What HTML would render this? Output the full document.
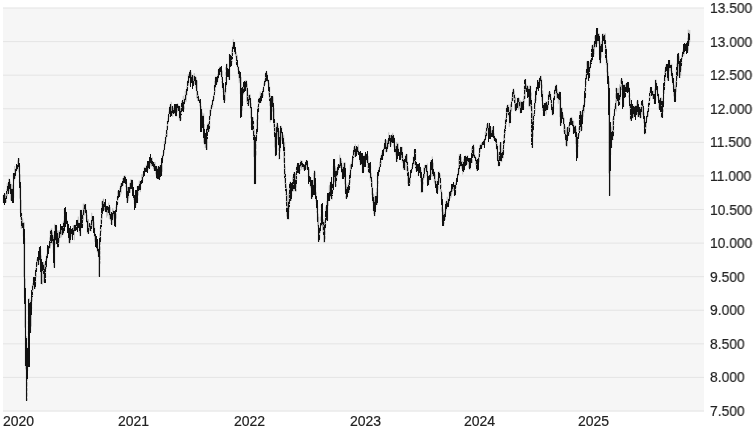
<!DOCTYPE html>
<html><head><meta charset="utf-8"><style>
html,body{margin:0;padding:0;background:#fff;}body{width:753px;height:430px;overflow:hidden;position:relative;font-family:"Liberation Sans",sans-serif;font-size:14px;color:#222;-webkit-text-stroke:0.2px #222;}
svg{position:absolute;left:0;top:0;}
.yl,.xl{will-change:transform;}.yl{transform:scaleX(0.986);transform-origin:0 50%;}.yl{position:absolute;left:710px;line-height:16px;height:16px;white-space:nowrap;}
.xl{position:absolute;top:413px;line-height:16px;height:16px;white-space:nowrap;}
</style></head><body>
<svg width="753" height="430" viewBox="0 0 753 430">
<rect x="3" y="8" width="701" height="403.5" fill="#f6f6f6"/>
<rect x="3" y="7.50" width="701" height="1" fill="#e4e4e4"/>
<rect x="3" y="41.08" width="701" height="1" fill="#e4e4e4"/>
<rect x="3" y="74.67" width="701" height="1" fill="#e4e4e4"/>
<rect x="3" y="108.25" width="701" height="1" fill="#e4e4e4"/>
<rect x="3" y="141.83" width="701" height="1" fill="#e4e4e4"/>
<rect x="3" y="175.42" width="701" height="1" fill="#e4e4e4"/>
<rect x="3" y="209.00" width="701" height="1" fill="#e4e4e4"/>
<rect x="3" y="242.58" width="701" height="1" fill="#e4e4e4"/>
<rect x="3" y="276.17" width="701" height="1" fill="#e4e4e4"/>
<rect x="3" y="309.75" width="701" height="1" fill="#e4e4e4"/>
<rect x="3" y="343.33" width="701" height="1" fill="#e4e4e4"/>
<rect x="3" y="376.92" width="701" height="1" fill="#e4e4e4"/>
<rect x="3" y="410.50" width="701" height="1" fill="#e4e4e4"/>
<g id="series" stroke="#111" stroke-width="1" fill="none" stroke-linejoin="round">
<path d="M3.25 194.9V203.1M3.75 194.8V203.1M4.25 194.0V198.0M4.25 199.0V203.1M4.75 193.2V201.2M5.25 194.1V199.2M5.25 200.6V202.5M5.75 195.3V202.5M6.25 193.0V198.1M6.25 199.8V202.5M6.75 189.0V192.0M6.75 193.7V198.8M7.25 183.2V195.9M7.75 185.9V193.8M8.25 184.3V193.8M8.75 178.9V184.1M8.75 185.6V190.8M8.75 192.0V193.8M9.25 178.6V191.6M9.75 179.5V183.1M9.75 184.0V188.5M10.25 181.7V190.7M10.75 183.9V200.5M11.25 183.9V200.5M11.75 188.5V200.5M12.25 188.5V202.5M12.75 184.6V202.5M13.25 173.2V202.5M13.75 173.2V197.8M14.25 173.8V180.5M14.75 166.0V178.6M15.25 169.1V173.2M15.25 174.9V178.6M15.75 168.6V175.0M16.25 168.0V171.4M16.75 165.3V170.1M17.25 165.3V170.2M17.75 160.4V167.6M18.25 158.0V167.3M18.75 158.0V172.6M19.25 158.3V161.5M19.25 162.8V166.2M19.25 167.7V172.2M19.25 173.6V177.8M19.25 179.2V182.9M19.75 165.4V198.7M20.25 174.3V213.2M20.75 186.1V219.4M21.25 199.9V229.0M21.75 213.0V228.0M22.25 219.4V228.0M22.75 218.3V228.0M23.25 222.5V236.4M23.75 222.5V277.1M24.25 222.5V297.7M24.75 238.2V327.6M25.25 278.6V366.0M25.75 300.5V369.4M26.25 336.0V400.7M26.75 338.0V400.7M27.25 347.8V353.1M27.25 354.0V358.8M27.25 359.8V364.1M27.25 365.9V369.1M27.25 370.8V373.8M27.25 375.6V380.8M27.25 382.1V386.7M27.25 387.9V391.3M27.25 392.5V396.6M27.25 398.3V400.7M27.75 347.6V370.9M28.25 299.4V303.1M28.25 304.4V309.6M28.25 310.4V315.1M28.25 316.3V320.1M28.25 321.0V324.6M28.25 325.8V329.9M28.25 331.3V335.0M28.25 336.4V340.6M28.25 342.2V347.2M28.25 348.2V353.7M28.25 355.0V358.8M28.25 359.9V364.7M28.25 365.9V366.8M28.75 298.5V366.8M29.25 298.5V366.8M29.75 307.0V333.0M30.25 311.2V333.0M30.75 300.0V333.0M31.25 296.4V326.5M31.75 292.2V297.4M31.75 298.2V301.6M31.75 302.4V305.5M31.75 306.6V308.8M32.25 285.1V301.5M32.75 282.9V287.1M32.75 288.1V292.3M32.75 293.9V295.5M33.25 278.0V281.6M33.25 283.1V287.6M33.25 289.1V290.5M33.75 277.0V286.2M34.25 278.0V281.2M34.25 282.1V285.3M34.25 286.6V289.0M34.75 278.2V289.0M35.25 272.4V277.1M35.25 278.7V283.7M35.25 284.8V289.0M35.75 267.6V272.7M35.75 274.4V278.6M35.75 280.1V284.4M36.25 263.0V267.0M36.25 268.5V271.6M36.25 272.8V277.1M36.75 259.4V264.1M36.75 265.4V270.3M37.25 258.4V262.6M37.25 264.2V266.1M37.75 257.0V264.9M38.25 257.8V265.1M38.75 251.9V256.8M38.75 257.7V261.3M38.75 262.9V265.0M39.25 247.1V250.6M39.25 251.9V256.4M39.25 257.6V262.2M39.25 263.6V264.3M39.75 247.0V258.2M40.25 247.0V264.0M40.75 248.8V284.0M41.25 255.5V284.0M41.75 262.9V267.3M41.75 268.7V272.8M41.75 273.8V277.6M41.75 279.1V284.0M42.25 262.0V284.6M42.75 262.0V267.3M43.25 261.8V272.6M43.75 263.9V282.1M44.25 265.7V283.0M44.75 263.7V283.0M45.25 261.9V266.8M45.25 267.9V271.0M45.25 272.6V275.8M45.25 276.9V282.3M45.75 259.2V263.4M45.75 265.0V268.8M45.75 270.2V273.6M45.75 274.6V277.8M46.25 255.6V269.1M46.75 254.0V261.5M47.25 247.3V259.3M47.75 250.3V255.7M48.25 248.6V253.7M48.75 245.7V250.9M49.25 243.2V249.0M49.75 237.4V240.8M49.75 242.4V245.8M49.75 246.9V247.5M50.25 230.5V248.5M50.75 229.7V246.3M51.25 229.7V236.4M51.75 228.2V239.1M52.25 232.5V244.4M52.75 231.5V243.3M53.25 237.0V253.2M53.75 235.3V267.6M54.25 237.7V267.6M54.75 223.8V267.6M55.25 225.0V228.8M55.25 230.4V234.6M55.25 236.1V240.8M55.25 241.7V244.8M55.75 224.9V240.9M56.25 224.9V232.7M56.75 226.0V241.6M57.25 230.6V234.9M57.25 236.1V239.1M57.25 240.8V244.7M57.25 246.4V247.4M57.75 233.9V247.4M58.25 230.5V247.4M58.75 236.2V240.9M58.75 241.8V245.3M59.25 231.9V242.1M59.75 230.3V237.0M60.25 230.1V234.3M60.75 226.5V238.1M61.25 226.5V234.6M61.75 226.5V236.6M62.25 227.9V233.7M62.75 226.6V234.5M63.25 221.8V234.5M63.75 220.4V233.7M64.25 209.1V214.3M64.25 215.6V220.3M64.25 221.2V225.9M64.75 208.0V223.5M65.25 208.8V211.9M65.25 213.3V218.4M65.25 219.9V220.6M65.75 210.8V213.9M65.75 215.3V220.0M66.25 216.1V223.1M66.75 219.4V224.3M67.25 220.3V227.1M67.75 223.8V229.0M68.25 225.2V228.5M68.25 229.3V233.4M68.75 226.8V242.7M69.25 230.4V233.8M69.25 234.9V240.3M69.25 241.2V243.3M69.75 237.3V243.5M70.25 235.2V242.7M70.75 232.6V239.1M71.25 230.4V236.7M71.75 229.2V234.0M72.25 228.1V233.0M72.75 228.1V235.3M73.25 225.3V234.5M73.75 225.6V234.5M74.25 224.9V240.2M74.75 224.9V231.3M75.25 225.5V229.8M75.75 224.6V230.5M76.25 221.8V226.2M76.25 227.0V230.5M76.75 220.6V227.3M77.25 220.1V226.2M77.75 219.6V228.1M78.25 216.6V228.1M78.75 222.4V228.1M79.25 223.3V232.9M79.75 223.3V236.1M80.25 210.0V236.1M80.75 210.4V236.1M81.25 210.4V228.1M81.75 210.4V228.1M82.25 214.3V228.1M82.75 212.6V215.6M82.75 217.4V221.4M82.75 222.9V226.0M83.25 203.6V220.4M83.75 207.8V214.8M84.25 203.7V211.8M84.75 204.0V215.7M85.25 204.0V213.8M85.75 204.1V209.0M85.75 209.9V213.2M86.25 208.7V212.6M86.25 214.0V218.7M86.75 211.4V215.7M86.75 216.5V219.9M86.75 221.2V223.0M87.25 214.8V233.1M87.75 219.7V225.0M87.75 226.0V230.1M87.75 230.9V233.7M88.25 219.1V233.7M88.75 224.6V227.7M88.75 229.2V233.7M89.25 224.1V230.9M89.75 223.3V230.5M90.25 224.0V229.6M90.75 223.5V231.3M91.25 220.6V223.6M91.25 224.8V228.7M91.25 229.8V231.3M91.75 212.8V228.1M92.25 217.2V222.6M92.75 216.1V226.5M93.25 216.1V229.2M93.75 217.3V221.8M93.75 223.5V228.3M93.75 229.8V232.0M94.25 221.8V236.8M94.75 227.6V241.9M95.25 233.8V240.0M95.75 235.5V243.4M96.25 238.6V246.8M96.75 240.4V249.1M97.25 243.0V252.2M97.75 246.4V252.5M98.25 248.4V256.6M98.75 250.3V276.6M99.25 242.2V276.6M99.75 233.5V276.6M100.25 227.2V232.6M100.25 233.5V238.1M100.25 239.6V245.0M100.25 246.5V250.2M100.25 251.1V254.5M100.25 255.6V260.0M100.25 261.2V263.7M100.75 219.4V223.7M100.75 225.4V228.4M100.75 230.1V235.0M100.75 236.6V240.4M101.25 211.8V215.3M101.25 216.5V221.5M101.25 222.9V227.5M101.25 228.4V231.9M101.75 201.4V205.3M101.75 206.2V209.4M101.75 210.9V216.3M101.75 217.7V223.0M101.75 223.9V224.5M102.25 200.8V218.5M102.75 200.8V212.1M103.25 198.7V211.2M103.75 198.9V211.2M104.25 203.0V210.0M104.75 202.4V209.7M105.25 202.6V206.9M105.25 207.8V211.5M105.75 204.3V212.1M106.25 207.0V212.1M106.75 206.4V217.6M107.25 206.4V212.9M107.75 206.4V215.7M108.25 206.6V212.5M108.75 202.6V213.1M109.25 209.9V218.8M109.75 208.3V216.4M110.25 206.9V220.0M110.75 216.0V221.1M110.75 222.8V223.8M111.25 217.3V223.5M111.75 215.6V224.9M112.25 212.9V224.9M112.75 208.2V220.4M113.25 210.0V215.6M113.75 211.2V218.7M114.25 212.0V217.1M114.25 218.9V223.0M114.75 213.8V218.7M114.75 220.3V224.9M114.75 225.8V226.5M115.25 210.7V226.5M115.75 206.9V226.5M116.25 204.4V207.6M116.25 208.8V211.8M116.25 213.5V218.6M116.75 201.0V204.3M116.75 205.5V209.9M117.25 197.1V200.6M117.25 202.2V207.0M117.75 190.9V203.8M118.25 191.4V196.3M118.25 198.1V199.4M118.75 190.1V196.6M119.25 190.1V196.6M119.75 188.0V193.0M119.75 193.9V196.6M120.25 185.6V189.9M120.25 191.4V195.2M120.75 183.4V189.2M121.25 182.9V193.5M121.75 182.9V188.7M122.25 182.5V186.1M122.75 178.0V186.1M123.25 178.3V185.6M123.75 176.3V181.7M124.25 175.7V183.1M124.75 175.7V181.3M125.25 175.7V183.8M125.75 178.5V183.1M125.75 184.3V187.2M126.25 180.2V194.7M126.75 182.0V203.0M127.25 187.0V203.0M127.75 186.9V203.0M128.25 186.9V201.1M128.75 186.9V198.4M129.25 187.3V192.5M129.75 183.0V192.5M130.25 182.5V193.0M130.75 179.3V189.1M131.25 179.7V188.3M131.75 179.7V189.0M132.25 179.7V191.3M132.75 182.0V186.7M132.75 188.0V192.6M133.25 187.3V192.8M133.25 194.4V196.3M133.75 191.3V195.1M133.75 196.4V200.0M134.25 195.3V198.3M134.25 199.3V203.9M134.75 198.5V203.7M134.75 205.5V207.8M135.25 196.0V207.8M135.75 190.1V207.8M136.25 190.1V205.1M136.75 190.1V203.0M137.25 186.2V203.0M137.75 187.4V190.4M137.75 192.2V196.3M137.75 197.9V200.9M137.75 202.1V203.0M138.25 186.1V195.3M138.75 185.1V190.1M139.25 180.5V190.1M139.75 182.4V190.2M140.25 181.3V192.1M140.75 181.3V188.7M141.25 180.9V184.3M141.75 174.1V183.7M142.25 176.8V182.7M142.75 174.5V181.3M143.25 171.8V177.6M143.75 171.0V175.5M144.25 166.9V173.6M144.75 167.7V172.9M145.25 167.7V171.9M145.75 167.7V171.7M146.25 164.6V171.7M146.75 165.1V171.1M147.25 163.5V168.9M147.75 161.2V167.2M148.25 161.2V170.2M148.75 161.2V168.5M149.25 161.5V168.5M149.75 160.2V164.2M149.75 165.9V168.5M150.25 159.2V165.5M150.75 157.8V162.3M151.25 158.0V166.7M151.75 159.4V165.7M152.25 157.3V166.1M152.75 161.5V166.1M153.25 162.0V168.7M153.75 162.0V169.3M154.25 162.0V170.9M154.75 165.0V170.9M155.25 162.2V170.9M155.75 166.1V174.3M156.25 166.4V170.9M156.25 172.1V175.6M156.75 165.8V178.9M157.25 168.1V178.9M157.75 167.3V171.7M157.75 173.5V176.5M157.75 177.8V178.9M158.25 166.1V176.5M158.75 166.1V179.7M159.25 167.7V179.7M159.75 165.4V179.7M160.25 165.2V176.0M160.75 165.2V175.7M161.25 161.7V175.7M161.75 159.3V164.4M161.75 165.7V171.2M161.75 172.8V175.7M162.25 155.1V172.2M162.75 154.4V160.5M163.25 150.7V157.4M163.75 148.5V154.6M164.25 141.1V153.4M164.75 141.4V144.9M164.75 146.4V149.6M165.25 137.1V141.7M165.25 143.0V146.5M165.75 134.1V138.7M165.75 139.6V142.8M166.25 130.1V135.5M166.25 136.5V139.7M166.75 125.8V131.1M166.75 132.0V136.2M167.25 121.0V136.8M167.75 118.3V122.7M167.75 123.8V127.6M168.25 115.0V118.5M168.25 120.3V123.6M168.75 111.7V115.1M168.75 116.3V119.6M169.25 108.6V112.5M169.25 114.3V117.1M169.75 105.7V109.7M169.75 111.2V113.6M170.25 104.3V111.6M170.75 104.3V115.5M171.25 101.8V115.5M171.75 106.5V111.4M171.75 112.9V115.5M172.25 105.9V113.7M172.75 105.9V117.0M173.25 108.0V112.9M173.75 107.6V113.9M174.25 104.7V108.3M174.25 109.9V113.9M174.75 104.3V111.5M175.25 104.3V115.2M175.75 104.5V116.3M176.25 105.9V116.3M176.75 104.9V107.9M176.75 109.0V112.8M176.75 113.9V116.3M177.25 103.5V112.2M177.75 103.5V109.5M178.25 105.1V110.7M178.75 105.9V110.7M179.25 105.9V119.6M179.75 105.9V121.1M180.25 107.8V121.1M180.75 108.7V113.3M180.75 114.2V118.5M180.75 119.7V121.1M181.25 104.8V109.2M181.25 110.4V115.8M181.25 117.2V119.7M181.75 100.9V105.5M181.75 106.4V111.7M182.25 101.3V106.1M182.75 100.2V111.5M183.25 95.8V111.5M183.75 102.1V105.8M183.75 107.1V111.5M184.25 100.6V104.6M184.25 105.8V109.2M184.75 97.8V102.6M185.25 91.0V101.8M185.75 94.0V98.9M186.25 89.0V101.7M186.75 86.2V91.3M186.75 92.6V95.7M187.25 82.0V86.6M187.25 88.2V92.6M187.25 93.5V94.6M187.75 80.1V85.1M187.75 86.3V89.3M188.25 74.0V85.2M188.75 74.7V85.9M189.25 73.5V78.3M189.75 70.9V77.1M190.25 70.1V82.4M190.75 70.1V83.0M191.25 72.3V83.0M191.75 75.5V81.3M192.25 74.9V83.5M192.75 74.9V86.2M193.25 75.8V86.2M193.75 78.8V85.3M194.25 73.1V84.3M194.75 76.3V79.7M195.25 76.5V83.9M195.75 76.5V87.9M196.25 77.4V91.2M196.75 80.6V98.3M197.25 80.4V98.3M197.75 91.3V101.1M198.25 94.2V101.0M198.75 97.0V101.0M199.25 98.8V102.2M199.75 99.5V106.3M200.25 99.5V109.2M200.75 102.3V131.6M201.25 106.1V131.6M201.75 109.0V131.4M202.25 112.5V127.4M202.75 115.5V124.2M203.25 115.5V132.2M203.75 113.4V142.6M204.25 124.0V144.4M204.75 130.7V144.4M205.25 133.2V147.8M205.75 133.2V148.0M206.25 131.9V150.0M206.75 127.5V150.0M207.25 124.7V150.0M207.75 123.5V132.6M208.25 123.5V131.6M208.75 121.9V131.6M209.25 116.2V120.9M209.25 121.9V127.2M209.25 128.1V131.6M209.75 110.0V127.9M210.25 109.4V114.3M210.25 115.1V119.4M210.75 106.9V115.0M211.25 104.6V111.4M211.75 103.3V108.4M212.25 100.4V107.1M212.75 99.1V107.2M213.25 95.5V102.1M213.75 93.6V100.8M214.25 85.8V89.7M214.25 90.9V94.9M214.25 95.8V99.1M214.75 81.1V86.4M214.75 87.8V93.2M214.75 94.8V95.7M215.25 77.8V82.5M215.25 83.3V88.4M215.25 89.2V92.1M215.75 76.5V88.0M216.25 76.5V84.6M216.75 79.3V84.6M217.25 77.6V83.2M217.75 73.9V82.2M218.25 69.7V79.4M218.75 70.9V76.0M219.25 67.7V74.8M219.75 66.5V72.3M220.25 66.9V70.5M220.75 66.9V75.0M221.25 68.3V71.8M221.25 73.4V77.1M221.75 71.3V75.0M221.75 76.5V79.9M221.75 81.1V82.9M222.25 70.7V87.6M222.75 79.8V84.6M222.75 86.1V89.8M222.75 90.9V91.5M223.25 84.0V87.2M223.25 88.1V93.3M223.25 94.6V97.3M223.75 87.8V102.7M224.25 88.7V102.7M224.75 90.2V94.9M224.75 96.5V101.1M224.75 102.0V102.7M225.25 83.8V100.7M225.75 67.2V70.3M225.75 72.1V75.6M225.75 77.1V81.0M225.75 82.7V87.1M225.75 88.4V93.3M226.25 65.2V69.4M226.25 70.9V74.3M226.25 75.5V80.0M226.25 81.1V86.6M226.25 88.4V89.0M226.75 63.7V83.8M227.25 63.8V76.5M227.75 69.8V75.5M228.25 68.9V74.7M228.75 68.5V79.8M229.25 54.1V79.8M229.75 54.1V79.8M230.25 54.8V59.1M230.25 60.1V64.7M230.25 66.1V66.9M230.75 58.5V66.9M231.25 58.3V65.7M231.75 49.8V65.0M232.25 46.6V50.7M232.25 51.5V55.0M232.25 56.6V59.9M232.25 60.9V61.9M232.75 45.2V49.0M232.75 50.8V54.9M232.75 56.0V56.5M233.25 39.2V48.8M233.75 42.0V46.1M234.25 42.0V50.5M234.75 42.0V53.7M235.25 47.0V51.2M235.25 52.2V54.9M235.75 51.5V57.3M236.25 52.0V64.0M236.75 56.5V60.9M236.75 62.3V65.5M237.25 54.8V67.3M237.75 63.9V70.1M238.25 66.4V74.0M238.75 66.4V78.2M239.25 69.9V83.2M239.75 72.0V81.3M240.25 75.3V93.9M240.75 77.4V117.1M241.25 76.8V117.1M241.75 92.7V117.1M242.25 95.0V99.6M242.25 100.7V104.8M242.25 106.1V110.7M242.75 88.7V93.9M242.75 94.9V99.7M242.75 101.1V103.2M243.25 84.4V89.3M243.25 90.3V94.9M243.75 81.9V85.4M243.75 86.8V90.6M243.75 92.2V94.2M244.25 81.4V90.3M244.75 81.4V91.0M245.25 80.7V91.0M245.75 80.6V91.0M246.25 80.6V88.1M246.75 80.6V102.2M247.25 83.7V103.6M247.75 89.6V94.0M247.75 95.0V98.7M247.75 99.6V102.8M247.75 104.5V105.9M248.25 94.6V105.9M248.75 95.4V99.5M248.75 101.0V105.4M249.25 94.6V103.4M249.75 94.6V101.9M250.25 94.7V108.8M250.75 98.4V118.3M251.25 103.2V108.5M251.25 109.8V114.6M251.25 115.9V119.6M251.25 120.7V125.0M251.25 126.1V128.1M251.75 110.1V129.9M252.25 117.1V129.9M252.75 117.1V130.8M253.25 117.3V121.2M253.25 122.1V127.1M253.25 128.7V134.0M253.25 135.0V136.9M253.75 122.1V156.9M254.25 129.7V184.1M254.75 138.1V184.1M255.25 138.2V184.1M255.75 134.5V183.7M256.25 131.4V136.2M256.25 137.7V142.7M256.25 143.8V149.1M256.25 150.8V155.4M256.75 119.2V139.0M257.25 113.5V118.5M257.25 120.1V123.9M257.25 124.7V129.9M257.25 131.6V134.1M257.75 106.0V110.3M257.75 111.9V116.3M257.75 117.6V121.2M257.75 122.1V125.7M257.75 126.8V129.7M258.25 100.5V103.7M258.25 104.6V109.0M258.25 110.0V113.6M258.25 115.2V119.4M258.75 97.8V111.9M259.25 97.8V104.7M259.75 97.8V102.7M260.25 91.6V102.7M260.75 94.2V99.2M260.75 100.5V102.7M261.25 93.0V102.3M261.75 93.0V97.8M262.25 91.4V97.8M262.75 88.9V93.1M262.75 94.9V97.8M263.25 87.2V91.1M263.25 92.4V96.0M263.75 83.5V92.0M264.25 82.2V86.8M264.75 79.4V85.1M265.25 73.6V84.7M265.75 72.1V75.3M265.75 76.3V79.3M266.25 70.9V80.1M266.75 70.9V81.4M267.25 73.4V81.4M267.75 79.2V82.6M268.25 79.8V87.5M268.75 79.8V95.1M269.25 82.8V100.1M269.75 86.7V105.9M270.25 95.3V122.4M270.75 99.5V120.3M271.25 95.9V120.3M271.75 96.2V120.1M272.25 96.4V100.6M272.25 101.5V105.7M272.75 97.8V101.1M272.75 102.1V105.8M272.75 107.3V111.6M273.25 96.5V120.5M273.75 105.2V127.7M274.25 108.4V135.2M274.75 120.0V147.4M275.25 127.6V156.1M275.75 133.2V156.1M276.25 125.4V156.1M276.75 122.7V151.7M277.25 122.7V139.6M277.75 123.9V129.3M277.75 130.7V135.3M278.25 125.6V128.7M278.25 129.7V134.0M278.25 135.0V139.0M278.25 139.8V144.5M278.75 130.6V135.0M278.75 136.1V141.4M278.75 142.4V146.2M278.75 147.8V151.0M278.75 152.3V156.5M278.75 157.6V159.3M279.25 135.0V159.3M279.75 131.0V135.5M279.75 137.0V142.3M279.75 143.7V148.4M279.75 149.8V153.0M279.75 154.6V158.9M280.25 125.9V151.5M280.75 125.9V144.4M281.25 125.9V134.3M281.75 127.4V140.7M282.25 133.0V138.9M282.75 134.2V141.8M283.25 136.3V147.4M283.75 134.8V162.7M284.25 142.5V175.6M284.75 141.9V183.6M285.25 166.4V169.8M285.25 170.9V175.9M285.25 177.5V181.5M285.25 182.7V187.5M285.75 177.4V181.0M285.75 182.5V187.0M285.75 188.4V192.7M285.75 193.9V195.2M286.25 183.4V203.9M286.75 186.4V216.5M287.25 194.8V219.4M287.75 203.8V219.1M288.25 201.5V219.1M288.75 192.7V219.8M289.25 188.0V193.1M289.25 193.9V198.5M289.25 199.3V204.2M289.25 205.1V209.3M289.25 210.9V211.5M289.75 182.5V187.0M289.75 188.2V192.2M289.75 193.7V198.3M289.75 200.1V204.3M290.25 181.7V201.0M290.75 181.7V201.0M291.25 183.3V201.0M291.75 183.3V196.5M292.25 183.3V191.4M292.75 177.2V191.4M293.25 175.6V180.9M293.25 182.0V186.3M293.25 187.5V191.4M293.75 172.3V176.5M293.75 177.9V181.1M293.75 182.5V186.5M294.25 172.1V183.5M294.75 172.1V190.6M295.25 173.0V191.4M295.75 173.8V191.4M296.25 168.4V172.3M296.25 174.0V177.8M296.25 179.5V182.5M296.25 183.5V187.6M296.25 189.0V191.4M296.75 165.4V168.4M296.75 169.4V174.9M296.75 176.7V180.5M297.25 164.4V167.9M297.25 169.1V172.1M297.75 163.3V169.3M298.25 164.3V169.9M298.75 165.3V170.6M298.75 171.9V173.7M299.25 165.8V173.7M299.75 163.2V166.8M299.75 168.2V171.8M299.75 172.6V173.7M300.25 162.8V167.6M300.25 168.9V170.7M300.75 160.2V166.7M301.25 160.9V168.1M301.75 160.9V169.8M302.25 160.8V166.5M302.75 163.5V166.9M303.25 164.1V169.1M303.75 164.1V169.7M304.25 164.1V170.5M304.75 164.7V170.5M305.25 164.0V169.1M305.75 161.4V167.0M306.25 160.1V165.7M306.75 160.1V169.0M307.25 160.1V169.7M307.75 163.1V169.7M308.25 167.3V177.1M308.75 167.3V181.7M309.25 168.9V181.7M309.75 176.9V181.7M310.25 176.9V186.8M310.75 177.4V182.6M310.75 183.5V188.2M311.25 180.4V198.6M311.75 180.1V198.6M312.25 180.1V198.6M312.75 180.1V195.8M313.25 184.9V194.3M313.75 173.0V194.6M314.25 170.5V194.6M314.75 170.5V193.8M315.25 171.7V176.6M315.25 177.6V182.8M315.25 184.0V187.2M315.25 188.8V192.6M315.25 193.6V196.6M315.75 183.3V188.1M315.75 189.8V194.3M315.75 195.8V199.4M315.75 200.4V201.1M316.25 192.3V197.8M316.25 198.9V203.1M316.25 204.0V204.8M316.75 199.9V203.8M316.75 204.9V209.8M316.75 210.8V212.7M317.25 201.7V220.5M317.75 205.7V226.3M318.25 213.7V241.6M318.75 216.8V241.6M319.25 227.3V241.6M319.75 227.6V231.5M319.75 233.2V238.4M320.25 226.3V233.0M320.75 216.6V220.9M320.75 222.3V226.4M321.25 204.8V207.9M321.25 209.2V212.7M321.25 213.9V217.4M321.25 218.5V222.6M321.25 223.5V225.9M321.75 203.8V225.5M322.25 203.8V226.4M322.75 211.5V230.3M323.25 219.3V233.9M323.75 222.1V242.3M324.25 221.9V242.3M324.75 220.4V242.3M325.25 214.7V218.3M325.25 219.5V224.2M325.25 225.9V229.6M325.25 230.7V234.9M325.25 236.0V239.2M325.75 206.8V211.9M325.75 213.1V216.7M325.75 218.4V221.8M325.75 223.1V225.7M326.25 205.8V210.8M326.25 212.4V215.7M326.25 216.8V219.5M326.75 201.1V220.7M327.25 195.3V220.7M327.75 193.0V220.7M328.25 193.0V205.9M328.75 192.8V200.0M329.25 185.5V201.0M329.75 184.8V201.0M330.25 181.8V186.2M330.25 187.6V193.0M330.25 194.4V196.5M330.75 181.7V197.3M331.25 182.7V187.0M331.25 188.7V192.5M331.25 194.1V198.1M331.75 185.4V199.4M332.25 185.6V188.9M332.25 190.4V195.4M332.25 196.7V199.4M332.75 183.5V187.8M332.75 188.8V192.7M333.25 165.9V169.9M333.25 171.4V175.7M333.25 176.9V180.2M333.25 181.2V186.2M333.75 159.3V185.1M334.25 159.3V181.9M334.75 159.3V182.3M335.25 166.2V186.6M335.75 168.2V186.6M336.25 172.2V177.6M336.25 179.4V182.9M336.25 183.8V186.6M336.75 169.9V173.1M336.75 174.1V177.8M336.75 178.7V180.0M337.25 167.7V176.4M337.75 165.0V174.0M338.25 164.1V172.8M338.75 164.1V168.3M339.25 164.1V168.1M339.75 154.7V168.1M340.25 157.7V168.1M340.75 157.7V167.9M341.25 158.8V162.9M341.25 164.2V167.6M341.75 161.2V165.3M341.75 166.9V170.6M341.75 171.5V173.0M342.25 165.1V169.0M342.25 170.1V173.3M342.25 174.6V178.5M342.75 167.7V178.5M343.25 170.0V174.4M343.25 176.0V178.5M343.75 162.9V178.2M344.25 162.5V173.6M344.75 162.5V184.3M345.25 162.7V192.7M345.75 174.7V178.6M345.75 180.4V183.4M345.75 184.6V189.0M345.75 190.4V194.2M345.75 195.7V198.6M346.25 183.7V198.6M346.75 186.6V198.6M347.25 186.6V198.0M347.75 186.6V192.9M348.25 182.5V193.0M348.75 182.8V193.0M349.25 177.5V181.0M349.25 182.5V187.5M349.25 189.0V192.4M349.75 172.7V177.6M349.75 179.3V184.8M349.75 186.2V187.8M350.25 164.8V182.9M350.75 163.7V175.3M351.25 165.1V170.4M351.75 161.5V167.0M352.25 158.5V164.3M352.75 154.9V162.0M353.25 150.8V156.0M353.25 156.9V160.4M353.75 147.3V152.1M353.75 153.3V157.2M354.25 146.4V154.1M354.75 146.4V157.1M355.25 144.2V157.1M355.75 147.8V151.5M355.75 152.4V157.1M356.25 148.0V154.8M356.75 146.4V153.0M357.25 146.7V150.8M357.75 146.7V154.0M358.25 144.4V154.7M358.75 150.1V154.7M359.25 151.8V155.2M359.75 152.3V161.9M360.25 152.3V165.1M360.75 155.9V165.1M361.25 153.9V157.5M361.25 158.6V162.8M361.25 164.5V165.1M361.75 153.1V164.7M362.25 153.1V172.6M362.75 155.9V173.2M363.25 156.9V161.9M363.25 162.9V167.3M363.25 168.2V171.8M363.75 155.5V171.9M364.25 155.5V166.3M364.75 154.5V166.7M365.25 156.5V166.7M365.75 154.6V159.0M365.75 160.0V163.1M365.75 164.1V166.7M366.25 153.9V161.5M366.75 153.3V156.7M367.25 153.5V162.7M367.75 155.3V159.9M367.75 161.0V165.2M367.75 166.4V168.2M368.25 156.2V172.3M368.75 163.0V173.2M369.25 162.7V173.2M369.75 162.7V173.2M370.25 162.7V180.5M370.75 165.4V169.8M370.75 171.1V176.1M370.75 177.6V179.4M371.25 173.1V178.4M371.25 180.1V183.5M371.25 184.3V185.2M371.75 176.4V194.9M372.25 180.3V198.3M372.75 187.2V192.4M372.75 193.8V198.3M372.75 199.5V202.9M373.25 192.8V210.9M373.75 194.3V214.1M374.25 199.9V216.1M374.75 196.3V216.1M375.25 197.4V202.2M375.25 203.9V208.9M375.25 209.8V214.4M375.25 215.4V216.1M375.75 196.1V207.5M376.25 192.0V204.9M376.75 188.0V204.9M377.25 175.9V204.9M377.75 172.6V177.2M377.75 178.8V182.5M377.75 183.5V187.6M377.75 188.7V193.6M377.75 194.6V198.2M378.25 169.9V174.6M378.25 175.5V179.2M378.25 180.9V184.0M378.25 185.5V186.1M378.75 168.3V175.1M379.25 166.5V172.3M379.75 161.9V169.0M380.25 160.6V166.8M380.75 156.3V160.6M380.75 161.5V166.7M381.25 154.8V159.5M381.25 160.8V163.9M381.75 153.1V158.9M382.25 150.7V156.9M382.75 150.2V159.0M383.25 149.5V153.7M383.75 147.6V151.9M384.25 144.5V150.2M384.75 139.9V142.9M384.75 144.1V149.5M385.25 139.4V147.6M385.75 140.2V144.1M385.75 145.6V149.0M385.75 149.8V152.3M386.25 140.1V152.3M386.75 145.6V151.5M387.25 139.9V151.7M387.75 141.3V148.2M388.25 139.2V146.9M388.75 132.3V143.7M389.25 136.0V140.6M389.75 135.4V144.4M390.25 135.4V146.7M390.75 135.1V146.7M391.25 135.0V140.3M391.25 141.9V145.2M391.75 134.6V143.0M392.25 134.6V142.7M392.75 132.8V142.7M393.25 135.4V142.7M393.75 135.4V146.7M394.25 137.5V142.4M394.25 143.6V147.8M394.25 149.3V150.7M394.75 140.5V152.3M395.25 145.5V152.3M395.75 146.7V150.2M395.75 151.6V155.4M396.25 145.9V161.9M396.75 142.1V161.9M397.25 143.5V161.9M397.75 143.5V156.0M398.25 143.5V155.5M398.75 147.7V155.5M399.25 152.3V155.7M399.75 152.3V159.5M400.25 152.3V159.5M400.75 146.6V159.5M401.25 148.0V152.2M401.25 153.9V157.6M401.75 147.1V152.5M401.75 154.1V158.2M402.25 146.9V163.0M402.75 153.3V161.8M403.25 158.0V169.2M403.75 160.6V165.2M403.75 166.8V169.9M404.25 161.8V169.9M404.75 158.9V162.3M404.75 164.0V167.5M404.75 169.0V169.9M405.25 155.5V170.3M405.75 154.8V160.5M406.25 153.9V161.8M406.75 153.9V170.8M407.25 154.1V174.1M407.75 161.5V183.8M408.25 167.9V186.0M408.75 174.7V186.0M409.25 177.0V181.7M409.25 182.9V186.0M409.75 176.5V180.3M409.75 181.5V184.5M410.25 173.5V184.0M410.75 170.6V176.7M411.25 169.5V173.5M411.75 167.0V172.0M412.25 164.7V170.2M412.75 162.1V167.8M413.25 156.4V166.3M413.75 157.0V163.8M414.25 149.9V153.9M414.25 155.1V158.9M414.25 160.4V161.2M414.75 149.1V165.4M415.25 150.4V154.0M415.25 155.6V159.4M415.25 161.0V164.9M415.75 150.4V169.3M416.25 162.8V171.6M416.75 166.7V171.6M417.25 165.6V171.1M417.75 164.7V170.1M418.25 163.5V176.1M418.75 164.2V168.1M418.75 169.0V172.7M419.25 165.4V173.2M419.75 167.3V172.6M420.25 166.7V175.9M420.75 168.0V171.1M420.75 172.6V177.0M420.75 178.5V181.7M421.25 170.2V193.0M421.75 175.4V192.4M422.25 178.9V192.4M422.75 177.0V192.4M423.25 176.0V180.3M423.25 181.8V184.4M423.75 167.4V179.5M424.25 167.9V171.3M424.25 172.4V176.4M424.75 165.1V177.9M425.25 164.7V170.6M425.75 165.0V168.4M426.25 165.1V170.4M426.75 165.1V175.9M427.25 163.5V183.3M427.75 171.7V175.6M427.75 177.2V182.1M427.75 183.6V185.2M428.25 176.0V185.2M428.75 175.8V179.9M428.75 180.9V185.2M429.25 174.8V181.5M429.75 174.8V179.6M430.25 168.4V179.6M430.75 160.3V164.3M430.75 165.2V170.5M430.75 172.3V177.1M430.75 178.5V179.6M431.25 160.3V176.8M431.75 160.3V168.2M432.25 156.5V171.2M432.75 162.2V166.9M432.75 168.3V171.3M432.75 172.4V176.3M433.25 162.9V176.4M433.75 171.6V176.4M434.25 171.6V182.4M434.75 171.6V183.5M435.25 174.3V184.8M435.75 181.0V187.4M436.25 180.7V190.8M436.75 185.6V190.1M436.75 191.6V193.6M437.25 183.7V193.6M437.75 178.5V182.3M437.75 184.1V187.9M437.75 189.4V193.3M438.25 172.0V175.1M438.25 176.4V179.7M438.25 181.3V184.9M438.25 185.7V189.7M438.75 171.6V183.3M439.25 171.6V178.5M439.75 172.8V176.8M439.75 177.8V182.6M440.25 174.5V191.2M440.75 178.3V183.5M440.75 185.2V189.7M440.75 191.0V191.9M441.25 184.2V188.0M441.25 189.3V194.4M441.25 195.8V199.9M441.75 190.4V194.4M441.75 196.0V200.6M441.75 202.3V205.3M441.75 206.9V211.6M442.25 193.2V222.1M442.75 201.9V205.8M442.75 207.6V212.9M442.75 213.8V217.2M442.75 218.8V223.2M442.75 224.0V225.8M443.25 209.5V225.8M443.75 212.6V225.8M444.25 215.5V220.6M444.25 222.0V223.6M444.75 211.8V214.8M444.75 215.9V220.1M445.25 206.5V219.8M445.75 201.9V205.4M445.75 206.5V210.1M445.75 211.0V213.6M446.25 200.9V210.9M446.75 200.9V206.5M447.25 196.8V207.3M447.75 201.9V207.3M448.25 201.3V206.6M448.75 198.4V205.3M449.25 191.3V202.9M449.75 193.5V199.2M450.25 190.9V198.3M450.75 190.5V194.8M451.25 188.3V197.5M451.75 185.9V194.4M452.25 184.4V191.9M452.75 184.4V190.8M453.25 183.7V187.1M453.75 182.8V191.0M454.25 185.6V191.0M454.25 192.2V195.6M454.75 185.6V195.6M455.25 183.7V195.6M455.75 182.8V186.7M455.75 188.3V193.0M456.25 179.7V185.0M456.25 186.3V188.0M456.75 177.7V183.8M457.25 175.5V180.3M457.75 172.4V177.3M458.25 168.4V175.1M458.75 158.7V175.9M459.25 154.2V172.2M459.75 154.8V159.2M459.75 160.9V165.9M460.25 153.9V163.0M460.75 153.9V167.0M461.25 157.0V164.8M461.75 161.5V168.6M462.25 161.0V169.4M462.75 164.7V174.5M463.25 164.8V171.6M463.75 159.1V162.8M463.75 163.6V167.4M463.75 168.5V171.6M464.25 156.9V160.7M464.25 161.9V165.8M464.25 167.4V170.3M464.75 156.3V164.7M465.25 156.3V166.2M465.75 155.2V166.2M466.25 157.3V160.5M466.25 161.7V165.5M466.75 156.6V163.5M467.25 156.6V164.3M467.75 155.1V161.4M468.25 158.1V161.5M468.75 158.2V168.0M469.25 159.2V164.3M469.25 166.0V169.4M469.75 158.7V169.4M470.25 158.2V169.4M470.75 158.2V166.2M471.25 158.2V163.0M471.75 147.7V163.0M472.25 146.9V151.4M472.25 152.8V157.8M472.25 158.9V163.0M472.75 145.7V149.3M472.75 150.2V154.5M472.75 155.8V156.9M473.25 144.5V157.6M473.75 144.5V156.7M474.25 147.2V158.2M474.75 154.0V158.2M475.25 156.2V159.6M475.75 156.6V165.0M476.25 158.0V161.6M476.25 163.0V166.7M476.75 160.9V165.9M476.75 167.7V171.0M477.25 163.4V171.0M477.75 160.1V163.6M477.75 164.9V169.0M478.25 156.7V160.3M478.25 161.9V165.5M478.25 167.3V168.4M478.75 153.3V157.8M478.75 158.9V163.3M479.25 148.3V162.1M479.75 145.5V150.4M479.75 151.3V155.3M480.25 144.5V152.2M480.75 144.5V148.5M481.25 143.3V148.5M481.75 143.0V148.1M482.25 142.1V146.6M482.75 141.6V145.0M483.25 141.5V144.9M483.75 140.2V144.5M484.25 139.4V147.2M484.75 138.3V145.2M485.25 131.8V141.0M485.75 131.3V138.8M486.25 127.3V132.5M486.25 134.3V137.5M486.75 124.1V135.5M487.25 124.3V129.1M487.75 122.8V130.2M488.25 122.8V135.6M488.75 125.3V138.9M489.25 128.3V138.9M489.75 127.0V130.4M489.75 131.8V136.1M489.75 137.8V138.9M490.25 126.0V136.0M490.75 126.8V131.7M490.75 132.9V135.2M491.25 130.1V135.3M491.75 131.2V136.5M492.25 126.8V136.5M492.75 127.0V130.6M492.75 132.1V135.1M493.25 126.0V137.6M493.75 126.4V139.7M494.25 133.4V140.5M494.75 136.9V140.5M495.25 137.6V141.0M495.75 138.1V144.1M496.25 138.1V149.2M496.75 141.7V146.2M496.75 147.1V150.4M497.25 143.8V159.7M497.75 145.7V161.5M498.25 151.9V166.3M498.75 154.2V166.2M499.25 153.8V157.0M499.25 157.9V163.0M499.25 164.7V166.2M499.75 144.8V150.1M499.75 151.2V154.9M499.75 156.3V161.0M499.75 162.3V165.1M500.25 142.1V159.2M500.75 142.1V161.4M501.25 142.1V161.4M501.75 153.3V162.2M502.25 153.3V158.2M502.75 148.1V158.2M503.25 141.5V158.2M503.75 134.8V153.7M504.25 130.6V134.2M504.25 135.0V139.4M504.25 140.6V145.5M504.75 126.1V130.3M504.75 131.3V136.2M504.75 137.2V140.6M505.25 119.1V134.5M505.75 117.8V121.7M505.75 123.5V126.6M505.75 128.1V129.3M506.25 108.5V124.8M506.75 106.2V110.0M506.75 111.1V114.3M506.75 115.1V118.6M506.75 119.4V120.7M507.25 104.8V109.9M507.25 111.2V115.6M507.75 104.8V110.7M508.25 104.8V114.1M508.75 107.2V110.5M508.75 112.3V116.4M509.25 110.2V127.0M509.75 115.2V123.3M510.25 104.0V123.2M510.75 104.5V107.5M510.75 108.9V114.1M510.75 115.5V119.7M510.75 121.3V122.8M511.25 100.9V106.2M511.25 107.9V111.8M511.75 97.3V110.7M512.25 93.5V97.1M512.25 98.0V101.6M512.75 89.7V93.8M512.75 95.0V99.3M513.25 88.7V97.5M513.75 88.7V101.3M514.25 90.7V94.9M514.25 95.7V98.8M514.25 100.6V101.2M514.75 94.1V109.5M515.25 97.8V111.2M515.75 97.0V111.2M516.25 103.2V111.2M516.75 103.2V108.8M517.25 101.1V108.0M517.75 98.7V103.8M517.75 105.2V108.0M518.25 97.5V109.9M518.75 97.5V104.7M519.25 98.2V107.1M519.75 102.1V108.5M520.25 100.3V113.5M520.75 102.5V112.8M521.25 101.6V105.3M521.25 106.3V109.3M521.25 110.2V112.8M521.75 101.5V111.9M522.25 101.5V109.2M522.75 103.6V108.9M523.25 99.0V109.6M523.75 96.4V100.0M523.75 101.0V104.9M523.75 106.1V109.3M524.25 85.6V91.1M524.25 92.0V96.7M524.25 98.3V102.7M524.75 79.1V99.0M525.25 79.1V98.8M525.75 79.1V90.9M526.25 83.8V91.9M526.75 85.5V91.9M527.25 85.5V92.3M527.75 85.5V96.7M528.25 86.7V96.7M528.75 88.7V106.4M529.25 88.7V106.4M529.75 85.6V90.8M529.75 92.0V96.4M529.75 98.1V103.0M529.75 104.6V106.4M530.25 85.5V108.7M530.75 86.3V89.9M530.75 91.5V95.5M530.75 96.5V99.6M530.75 101.2V106.3M531.25 92.7V96.6M531.25 97.6V101.2M531.25 103.0V107.2M531.25 108.5V113.3M531.25 114.8V119.8M531.25 121.4V125.2M531.25 126.2V130.5M531.25 132.0V135.7M531.75 103.4V106.4M531.75 107.8V112.2M531.75 113.1V118.0M531.75 119.2V123.6M531.75 125.3V129.5M531.75 130.4V134.2M531.75 135.2V140.4M531.75 141.5V144.6M531.75 145.9V147.7M532.25 106.5V147.7M532.75 113.4V147.7M533.25 117.1V121.5M533.25 122.6V125.8M533.25 127.3V131.2M533.25 132.3V136.7M533.75 113.0V117.6M533.75 118.7V122.6M533.75 124.3V126.1M534.25 105.6V108.9M534.25 110.2V115.7M534.25 116.8V117.3M534.75 99.1V102.9M534.75 104.4V109.0M534.75 110.0V114.7M535.25 94.7V99.9M535.25 101.3V106.8M535.25 107.7V110.6M535.75 90.5V96.0M535.75 97.2V100.2M535.75 101.9V103.5M536.25 87.4V101.0M536.75 87.0V91.3M537.25 84.7V89.7M537.75 84.0V87.8M538.25 80.0V86.3M538.75 81.6V86.1M539.25 78.8V87.2M539.75 77.6V82.4M540.25 76.9V81.4M540.75 75.9V85.2M541.25 75.9V93.3M541.75 78.8V101.5M542.25 84.7V88.6M542.25 90.2V95.3M542.25 96.3V101.1M542.25 102.1V105.2M542.75 90.6V111.1M543.25 102.6V106.0M543.25 107.1V110.8M543.25 112.1V115.9M543.75 105.2V116.0M544.25 103.8V107.1M544.25 108.8V112.2M544.25 113.1V116.0M544.75 103.2V115.6M545.25 103.9V110.9M545.75 101.5V111.2M546.25 101.5V114.3M546.75 102.9V108.4M547.25 103.9V109.6M547.75 100.8V105.1M547.75 106.7V109.6M548.25 94.1V107.9M548.75 92.1V96.0M548.75 97.3V101.9M549.25 91.4V99.2M549.75 91.1V97.2M550.25 92.2V100.0M550.75 94.3V98.1M550.75 99.0V103.2M551.25 97.3V100.7M551.25 102.3V107.6M551.75 101.7V107.2M551.75 108.0V112.2M552.25 106.4V110.9M552.25 112.1V115.2M552.75 104.3V115.2M553.25 100.4V104.9M553.25 106.5V110.9M553.25 111.8V115.2M553.75 96.9V100.1M553.75 101.0V104.2M553.75 105.4V108.9M553.75 109.8V110.4M554.25 91.8V96.5M554.25 97.4V101.0M554.25 102.3V103.0M554.75 88.7V92.8M554.75 93.7V96.9M554.75 97.8V99.0M555.25 86.4V93.8M555.75 84.8V89.3M556.25 84.7V94.8M556.75 84.7V98.3M557.25 88.8V98.3M557.75 92.7V98.3M558.25 92.7V103.8M558.75 94.9V99.5M559.25 91.4V99.9M559.75 91.9V117.0M560.25 91.9V125.5M560.75 96.9V125.5M561.25 107.8V125.5M561.75 107.8V120.3M562.25 107.7V117.7M562.75 113.0V119.0M563.25 114.8V124.6M563.75 116.9V132.2M564.25 118.4V134.1M564.75 125.1V128.8M564.75 129.8V133.9M565.25 126.4V138.4M565.75 130.3V145.3M566.25 137.0V142.2M566.25 143.6V146.4M566.75 128.3V146.4M567.25 127.1V146.4M567.75 127.1V139.6M568.25 126.6V135.9M568.75 125.2V135.9M569.25 123.4V128.9M569.25 130.1V134.4M569.75 119.1V131.6M570.25 118.2V123.9M570.75 117.5V123.0M571.25 117.5V124.7M571.75 116.9V124.7M572.25 118.9V124.7M572.75 120.7V127.2M573.25 120.7V133.5M573.75 121.1V133.5M574.25 125.8V133.5M574.75 126.1V131.9M575.25 125.5V134.6M575.75 125.5V144.1M576.25 128.9V152.1M576.75 135.4V139.6M576.75 140.7V145.0M576.75 146.8V149.9M576.75 150.8V154.2M576.75 155.2V158.4M577.25 137.9V158.4M577.75 133.8V158.4M578.25 133.9V138.8M578.25 140.2V144.0M578.25 145.0V146.9M578.75 127.4V131.6M578.75 133.1V137.6M579.25 117.2V135.7M579.75 111.1V114.3M579.75 115.4V119.6M579.75 120.4V125.7M579.75 127.0V131.6M580.25 111.0V124.7M580.75 111.0V131.6M581.25 112.0V131.1M581.75 114.0V117.3M581.75 119.0V122.4M581.75 124.1V128.0M581.75 129.1V131.1M582.25 111.4V115.0M582.25 116.1V119.2M582.25 120.6V124.6M582.25 126.3V129.7M582.75 107.4V119.6M583.25 105.6V116.8M583.75 103.4V109.6M584.25 96.4V112.7M584.75 87.8V93.1M584.75 94.7V98.9M584.75 100.2V105.0M585.25 81.0V84.5M585.25 86.2V90.2M585.25 91.7V96.4M585.25 98.0V102.3M585.75 74.9V77.9M585.75 78.9V82.9M585.75 84.3V88.4M585.75 89.3V92.6M585.75 93.4V95.0M586.25 70.5V75.1M586.25 76.8V80.0M586.25 81.1V85.0M586.75 61.2V79.8M587.25 62.4V65.5M587.25 66.7V70.7M587.25 72.2V73.7M587.75 60.9V74.5M588.25 60.9V81.0M588.75 64.4V81.0M589.25 67.3V72.1M589.25 73.4V78.5M589.25 80.2V81.0M589.75 61.9V76.0M590.25 62.5V68.5M590.75 59.1V67.2M591.25 53.2V57.4M591.25 58.6V64.0M591.75 45.5V50.4M591.75 51.9V56.5M591.75 58.2V62.3M592.25 44.9V60.8M592.75 46.4V50.3M592.75 52.0V56.8M593.25 44.0V56.9M593.75 46.5V51.8M593.75 53.2V56.9M594.25 41.6V54.2M594.75 36.2V39.6M594.75 40.6V44.5M594.75 45.4V47.8M595.25 35.2V46.0M595.75 35.2V47.3M596.25 30.2V47.3M596.75 28.1V32.4M596.75 33.7V38.9M596.75 40.3V44.6M596.75 45.4V47.3M597.25 28.0V43.7M597.75 28.0V40.9M598.25 33.6V40.9M598.75 33.6V43.8M599.25 33.6V55.3M599.75 37.8V63.3M600.25 42.3V63.3M600.75 44.7V48.1M600.75 49.6V53.3M600.75 54.5V59.5M600.75 60.7V63.3M601.25 44.1V57.6M601.75 40.9V52.1M602.25 34.5V38.6M602.25 40.3V43.6M602.25 44.7V48.4M602.25 49.9V52.1M602.75 33.6V50.5M603.25 33.6V40.9M603.75 35.2V40.3M604.25 34.5V43.3M604.75 34.5V44.8M605.25 33.3V55.5M605.75 41.0V44.7M605.75 45.7V50.1M605.75 51.1V55.8M605.75 57.0V60.0M606.25 46.6V49.7M606.25 50.8V54.8M606.25 55.7V60.6M606.25 61.5V65.0M606.75 56.0V72.4M607.25 59.4V78.0M607.75 60.3V83.5M608.25 71.7V89.4M608.75 77.9V173.3M609.25 81.4V195.7M609.75 100.0V195.7M610.25 122.3V195.7M610.75 122.3V155.0M611.25 126.6V148.0M611.75 131.9V148.0M612.25 133.2V140.2M612.75 118.7V139.9M613.25 117.4V121.1M613.25 122.1V126.4M613.25 127.2V132.0M613.25 133.2V137.2M613.25 138.9V139.9M613.75 113.5V117.1M613.75 118.3V123.5M613.75 124.4V128.3M613.75 130.0V133.0M614.25 109.5V114.5M614.25 115.4V120.1M614.75 106.2V111.6M614.75 112.7V115.4M615.25 104.2V110.2M615.75 87.9V91.7M615.75 93.3V97.8M615.75 99.6V103.6M615.75 105.2V108.5M616.25 87.8V111.5M616.75 87.8V102.5M617.25 88.6V100.7M617.75 94.2V100.3M618.25 92.7V105.5M618.75 88.2V105.5M619.25 96.1V100.4M619.25 101.5V104.8M619.75 84.2V104.9M620.25 85.8V89.6M620.25 90.9V95.6M620.25 96.8V99.3M620.75 79.8V83.7M620.75 85.3V90.4M620.75 91.5V94.7M621.25 78.8V83.1M621.25 84.2V87.3M621.25 88.5V89.9M621.75 78.2V89.8M622.25 78.9V82.7M622.25 84.2V87.3M622.25 88.6V91.9M622.25 92.7V96.2M622.25 97.1V100.4M622.75 84.5V88.0M622.75 89.6V93.8M622.75 95.2V99.3M622.75 100.3V103.6M622.75 104.6V107.1M623.25 86.2V107.1M623.75 84.6V107.1M624.25 84.6V98.1M624.75 84.6V97.5M625.25 88.5V92.1M625.25 93.3V97.5M625.75 84.2V88.2M625.75 89.8V93.2M625.75 94.6V95.1M626.25 83.0V91.5M626.75 83.2V86.9M626.75 88.2V91.4M627.25 81.8V92.7M627.75 82.2V92.7M628.25 82.2V91.2M628.75 83.5V88.4M628.75 90.1V93.6M628.75 95.3V97.4M629.25 87.1V103.4M629.75 93.2V96.8M629.75 98.3V103.6M629.75 104.6V108.2M630.25 98.2V120.2M630.75 104.4V120.8M631.25 106.9V120.8M631.75 104.8V110.2M631.75 111.5V115.4M631.75 116.2V119.6M632.25 103.9V118.3M632.75 103.9V118.3M633.25 106.3V118.3M633.75 106.3V115.5M634.25 106.3V116.7M634.75 105.7V116.7M635.25 106.6V109.7M635.25 110.9V115.5M635.75 105.5V115.5M636.25 105.5V115.1M636.75 101.5V115.1M637.25 100.3V103.5M637.25 105.3V110.4M637.25 111.9V114.2M637.75 99.9V117.4M638.25 100.5V105.9M638.25 107.3V111.6M638.25 112.9V116.7M638.75 106.6V116.7M639.25 108.0V113.0M639.25 114.5V116.7M639.75 107.1V117.8M640.25 107.1V118.3M640.75 107.8V112.2M640.75 113.1V118.3M641.25 102.7V108.1M641.25 109.5V114.5M641.25 115.4V117.8M641.75 101.2V105.9M641.75 107.1V112.3M642.25 99.9V108.1M642.75 99.9V115.1M643.25 103.8V117.4M643.75 108.0V122.8M644.25 112.6V117.6M644.25 119.0V123.9M644.25 125.1V128.2M644.25 129.3V133.0M644.75 117.2V134.4M645.25 123.9V128.6M645.25 130.1V134.0M645.75 120.7V124.3M645.75 125.7V130.1M645.75 131.8V133.7M646.25 117.9V121.3M646.25 122.9V127.6M646.75 115.4V121.6M647.25 112.2V118.7M647.75 109.4V115.4M648.25 103.5V116.7M648.75 100.9V106.1M648.75 107.6V111.1M649.25 95.8V100.9M649.25 102.7V107.3M649.75 91.1V96.1M649.75 97.8V101.3M649.75 102.1V103.1M650.25 88.2V92.2M650.25 93.8V98.4M650.75 87.0V93.5M651.25 87.0V95.9M651.75 87.5V95.9M652.25 91.0V95.9M652.75 91.0V99.1M653.25 90.5V99.1M653.75 94.3V99.1M654.25 94.3V103.9M654.75 88.7V103.9M655.25 79.8V103.9M655.75 79.8V100.7M656.25 79.8V89.2M656.75 82.8V86.0M656.75 87.7V91.5M657.25 86.7V93.4M657.75 87.2V97.7M658.25 93.2V99.8M658.75 94.3V108.4M659.25 99.3V104.7M659.25 105.9V109.5M659.75 98.4V109.5M660.25 98.7V103.6M660.25 104.5V108.7M660.75 97.5V107.5M661.25 97.5V118.0M661.75 102.4V106.5M661.75 108.2V113.4M661.75 114.9V117.5M662.25 105.2V117.5M662.75 98.0V102.5M662.75 104.1V108.2M662.75 109.6V113.4M662.75 114.2V117.5M663.25 89.8V93.0M663.25 94.0V97.8M663.25 99.1V102.3M663.25 104.1V107.6M663.25 109.2V111.8M663.75 83.0V87.4M663.75 88.6V93.7M663.75 94.9V99.3M663.75 100.8V104.1M664.25 78.1V83.2M664.25 84.3V87.8M664.25 89.6V94.1M664.75 70.7V88.3M665.25 68.4V73.6M665.25 75.2V78.6M665.25 79.5V81.7M665.75 65.6V70.2M665.75 71.3V75.3M666.25 64.2V69.3M666.75 64.8V71.2M667.25 63.9V80.1M667.75 65.2V81.0M668.25 62.5V81.0M668.75 60.1V81.0M669.25 60.1V71.4M669.75 60.1V68.2M670.25 64.8V68.2M670.75 64.9V71.3M671.25 64.9V75.1M671.75 63.7V78.2M672.25 71.1V81.6M672.75 74.2V84.9M673.25 79.5V84.5M673.25 85.9V89.4M673.75 78.2V96.3M674.25 84.8V101.0M674.75 91.4V95.0M674.75 95.9V99.6M674.75 100.8V101.5M675.25 85.2V101.5M675.75 81.0V85.3M675.75 86.3V91.5M675.75 93.0V97.5M675.75 98.5V100.8M676.25 69.6V92.4M676.75 63.5V67.9M676.75 69.4V72.8M676.75 73.7V78.7M676.75 80.0V85.0M677.25 55.9V79.4M677.75 53.1V58.0M677.75 59.7V63.5M677.75 64.5V67.5M678.25 52.9V66.2M678.75 52.9V76.2M679.25 56.4V77.8M679.75 61.8V77.8M680.25 65.4V68.8M680.25 70.0V75.2M680.25 76.6V77.8M680.75 60.1V76.0M681.25 57.7V70.2M681.75 55.2V59.5M681.75 60.8V64.4M682.25 54.0V59.5M682.75 50.6V56.4M683.25 48.7V53.6M683.75 46.5V55.8M684.25 44.0V53.9M684.75 44.1V48.6M685.25 44.1V50.5M685.75 44.1V50.5M686.25 42.6V49.5M686.75 42.5V52.9M687.25 42.5V52.9M687.75 37.7V52.9M688.25 29.6V50.6M688.75 32.8V46.0M689.25 32.8V43.7M689.75 30.0V41.9" stroke-width="0.6" stroke="#111" stroke-opacity="0.42"/>
<path d="M3.50 195.3V203.1M4.50 193.2V205.2M5.50 197.5V202.5M6.50 191.4V194.4M6.50 195.7V198.9M7.50 185.9V191.0M8.50 181.5V193.8M9.50 178.6V188.5M10.50 183.9V194.2M11.50 188.5V200.5M12.50 188.5V202.5M13.50 173.2V202.5M14.50 172.6V178.6M15.50 168.6V176.3M16.50 163.5V171.2M17.50 164.6V168.7M18.50 158.0V167.3M19.50 162.8V188.4M20.50 181.6V216.8M21.50 212.5V215.8M21.50 216.9V220.1M21.50 221.0V226.0M22.50 223.3V228.0M23.50 222.5V243.9M24.50 229.2V303.7M25.50 287.5V366.0M26.50 338.0V400.7M27.50 347.6V379.0M28.50 298.5V366.8M29.50 302.8V366.8M30.50 301.9V333.0M31.50 290.0V314.8M32.50 285.5V290.0M32.50 291.6V295.1M32.50 296.0V297.2M33.50 277.0V284.9M34.50 277.0V289.0M35.50 270.1V275.5M35.50 276.5V281.3M35.50 282.3V287.4M36.50 262.4V267.0M36.50 268.0V272.3M37.50 257.0V261.2M38.50 251.2V265.0M39.50 247.0V260.3M40.50 246.4V271.6M41.50 258.8V284.0M42.50 262.0V270.9M43.50 264.8V269.6M43.50 270.8V273.5M44.50 269.4V283.0M45.50 261.2V265.0M45.50 266.5V271.8M45.50 273.4V277.5M45.50 279.1V283.0M46.50 255.6V266.7M47.50 244.7V257.7M48.50 246.1V253.7M49.50 240.8V247.5M50.50 230.7V234.2M50.50 235.2V240.5M50.50 241.9V242.8M51.50 229.7V242.5M52.50 234.9V240.5M53.50 238.5V262.9M54.50 231.3V267.6M55.50 224.9V239.9M56.50 224.5V243.6M57.50 232.7V247.4M58.50 237.5V242.6M58.50 243.6V246.6M59.50 232.1V238.0M60.50 224.1V234.3M61.50 226.4V229.8M62.50 226.0V234.5M63.50 223.4V226.7M63.50 228.0V232.6M64.50 208.0V231.2M65.50 207.2V227.3M66.50 211.9V224.4M67.50 220.7V233.0M68.50 224.3V237.7M69.50 227.6V243.3M70.50 226.3V239.7M71.50 228.9V234.2M72.50 228.1V239.6M73.50 229.5V234.5M74.50 224.9V230.5M75.50 225.1V230.5M76.50 220.1V225.5M76.50 226.9V229.5M77.50 220.1V231.6M78.50 223.1V228.1M79.50 223.3V230.6M80.50 210.4V236.1M81.50 210.4V228.1M82.50 215.4V218.7M82.50 220.3V223.3M82.50 224.3V227.9M83.50 209.6V215.3M84.50 204.9V209.2M85.50 204.0V212.8M86.50 209.7V221.5M87.50 220.7V232.0M88.50 227.7V233.7M89.50 223.3V227.4M90.50 226.2V231.3M91.50 219.9V224.6M91.50 225.6V228.7M92.50 216.1V220.8M93.50 216.1V233.2M94.50 227.7V235.7M95.50 234.3V246.7M96.50 235.8V247.9M97.50 239.0V250.9M98.50 249.3V257.3M99.50 237.8V276.6M100.50 224.8V228.8M100.50 230.5V235.7M100.50 237.2V242.1M101.50 208.1V212.7M101.50 214.2V217.7M101.50 219.5V224.1M101.50 225.3V227.0M102.50 200.8V214.3M103.50 204.1V211.2M104.50 202.4V206.6M105.50 199.4V212.1M106.50 206.0V212.1M107.50 206.4V210.0M108.50 207.3V213.3M109.50 204.5V215.0M110.50 214.0V219.3M111.50 212.3V224.9M112.50 213.4V219.9M113.50 210.7V214.1M114.50 211.2V225.6M115.50 210.2V226.5M116.50 201.0V212.4M117.50 196.1V200.3M117.50 202.1V204.5M118.50 190.1V197.9M119.50 190.7V196.6M120.50 185.5V191.7M121.50 182.9V187.1M122.50 181.4V186.1M123.50 177.6V183.3M124.50 175.7V182.5M125.50 177.3V183.8M126.50 178.7V198.2M127.50 190.8V203.0M128.50 186.9V195.8M129.50 187.1V192.5M130.50 182.8V189.1M131.50 179.7V189.2M132.50 179.7V195.6M133.50 187.2V197.8M134.50 194.9V210.1M135.50 189.8V207.8M136.50 190.1V203.0M137.50 186.1V203.0M138.50 186.1V190.5M139.50 183.6V190.1M140.50 181.3V190.1M141.50 180.3V183.7M142.50 177.1V183.2M143.50 170.9V176.7M144.50 167.7V175.8M145.50 167.7V171.7M146.50 166.3V171.7M147.50 160.8V172.5M148.50 161.2V167.6M149.50 157.3V168.5M150.50 153.7V163.4M151.50 158.0V164.1M152.50 160.8V166.1M153.50 162.0V167.0M154.50 163.5V170.9M155.50 166.1V170.7M156.50 166.1V178.3M157.50 168.6V178.9M158.50 166.1V178.7M159.50 166.8V179.7M160.50 165.2V176.7M161.50 157.9V175.7M162.50 156.0V163.0M163.50 150.1V156.1M164.50 143.9V150.2M165.50 137.1V144.0M166.50 129.5V134.2M166.50 135.2V137.4M167.50 120.6V124.2M167.50 125.9V130.0M168.50 114.0V121.9M169.50 106.9V114.4M170.50 104.3V116.9M171.50 110.9V115.5M172.50 105.9V113.3M173.50 110.2V113.9M174.50 104.3V113.0M175.50 104.3V116.4M176.50 104.0V116.3M177.50 103.5V107.9M178.50 106.2V110.7M179.50 105.9V117.8M180.50 111.3V121.1M181.50 103.3V106.8M181.50 108.3V112.2M181.50 113.9V115.0M182.50 100.2V110.5M183.50 102.4V111.5M184.50 99.4V104.3M185.50 95.2V100.1M186.50 89.0V94.9M187.50 81.3V86.0M187.50 86.9V90.7M188.50 76.1V83.0M189.50 72.2V78.0M190.50 70.1V86.8M191.50 76.9V83.0M192.50 74.9V88.6M193.50 81.3V86.2M194.50 76.2V80.8M195.50 76.5V85.3M196.50 79.9V91.0M197.50 90.7V95.4M197.50 96.5V98.4M198.50 96.3V101.0M199.50 99.5V102.9M200.50 98.5V131.6M201.50 108.5V131.6M202.50 115.5V127.6M203.50 115.5V137.9M204.50 129.3V144.4M205.50 133.2V143.5M206.50 129.2V150.0M207.50 124.9V130.2M207.50 131.5V135.8M207.50 137.1V138.7M208.50 123.5V131.6M209.50 115.6V119.9M209.50 121.1V124.2M209.50 125.7V129.2M210.50 109.6V116.2M211.50 104.6V109.1M212.50 100.3V105.0M213.50 96.0V101.2M214.50 85.1V90.6M214.50 91.8V95.3M215.50 76.5V87.3M216.50 76.9V84.6M217.50 75.9V81.7M218.50 68.7V77.9M219.50 68.2V74.7M220.50 66.9V71.9M221.50 66.3V77.0M222.50 77.1V88.4M223.50 83.0V100.2M224.50 94.8V102.7M225.50 81.5V92.2M226.50 63.7V85.0M227.50 67.8V76.5M228.50 68.5V76.6M229.50 54.1V79.8M230.50 55.4V66.9M231.50 55.7V59.8M231.50 61.4V65.7M232.50 46.7V51.9M232.50 52.9V56.2M232.50 57.1V59.2M233.50 42.1V49.2M234.50 42.0V52.2M235.50 47.0V54.4M236.50 55.9V60.8M236.50 61.7V65.4M237.50 60.3V67.4M238.50 66.6V74.4M239.50 70.5V78.2M240.50 72.2V118.0M241.50 87.9V117.1M242.50 87.2V106.3M243.50 82.2V87.0M243.50 88.6V93.1M244.50 81.4V91.8M245.50 81.5V91.0M246.50 80.6V87.2M247.50 87.9V91.6M247.50 92.4V95.9M247.50 96.9V100.9M247.50 102.7V103.9M248.50 99.0V105.9M249.50 94.6V100.4M250.50 97.8V107.6M251.50 106.8V129.9M252.50 117.1V129.9M253.50 120.9V124.3M253.50 125.8V129.4M253.50 130.9V135.6M253.50 136.6V139.8M254.50 135.2V184.1M255.50 136.7V184.1M256.50 129.3V133.7M256.50 135.3V140.7M257.50 108.9V132.1M258.50 98.5V102.4M258.50 103.6V107.3M258.50 108.3V112.3M259.50 97.8V102.9M260.50 96.0V102.7M261.50 93.0V100.7M262.50 91.1V97.8M263.50 86.5V92.2M264.50 80.6V85.5M265.50 73.3V77.3M265.50 78.4V81.7M266.50 70.9V81.4M267.50 75.1V81.4M268.50 79.8V91.2M269.50 87.2V91.6M269.50 93.0V97.4M269.50 99.0V100.7M270.50 97.6V120.3M271.50 96.2V120.3M272.50 96.2V107.2M273.50 103.3V122.5M274.50 119.0V122.5M274.50 123.8V127.1M274.50 128.0V131.1M274.50 132.0V136.8M274.50 137.7V138.4M275.50 133.4V156.1M276.50 126.6V154.7M277.50 122.7V132.0M278.50 128.0V144.6M279.50 136.7V159.3M280.50 125.9V147.7M281.50 128.1V132.9M282.50 131.8V143.9M283.50 138.0V150.7M284.50 146.8V151.0M284.50 152.2V156.0M284.50 157.6V162.7M284.50 163.8V167.7M284.50 169.2V174.1M284.50 175.9V177.5M285.50 173.5V177.3M285.50 178.1V182.6M285.50 183.5V188.1M285.50 189.1V191.2M286.50 189.1V194.6M286.50 195.6V200.8M286.50 202.0V206.1M286.50 207.7V211.7M286.50 212.5V213.1M287.50 207.7V219.1M288.50 202.3V219.1M289.50 184.3V188.2M289.50 189.8V193.5M289.50 194.8V197.9M289.50 198.9V204.3M289.50 205.1V206.8M290.50 181.7V201.0M291.50 183.3V199.4M292.50 182.2V191.4M293.50 174.0V178.0M293.50 179.2V183.8M293.50 185.4V189.4M294.50 172.1V188.7M295.50 179.6V191.4M296.50 166.5V169.8M296.50 170.7V174.6M296.50 175.9V178.9M296.50 180.2V184.2M297.50 163.3V172.9M298.50 163.3V172.8M299.50 164.6V173.7M300.50 161.7V166.4M301.50 160.9V164.7M302.50 162.6V166.5M303.50 164.0V167.4M304.50 164.7V170.5M305.50 161.8V169.5M306.50 160.1V164.5M307.50 160.7V169.7M308.50 167.3V183.8M309.50 175.8V181.7M310.50 176.9V185.6M311.50 180.1V198.6M312.50 180.1V197.2M313.50 184.9V194.6M314.50 170.5V194.6M315.50 178.3V199.2M316.50 195.8V208.1M317.50 199.5V222.4M318.50 224.7V241.6M319.50 228.4V233.3M319.50 234.7V239.9M320.50 222.9V230.9M321.50 203.8V225.1M322.50 202.6V223.6M323.50 222.3V225.3M323.50 226.5V230.2M323.50 231.7V235.2M324.50 224.6V242.3M325.50 211.2V216.7M325.50 218.2V223.1M325.50 224.2V228.0M326.50 204.6V219.9M327.50 193.3V220.7M328.50 193.0V200.5M329.50 192.4V201.0M330.50 181.7V196.0M331.50 177.1V199.4M332.50 184.2V188.3M332.50 190.1V193.8M332.50 195.3V196.2M333.50 159.3V189.5M334.50 159.3V176.8M335.50 171.3V186.6M336.50 171.0V176.3M336.50 178.0V181.1M336.50 182.5V183.1M337.50 167.1V175.0M338.50 164.1V169.5M339.50 164.7V168.1M340.50 157.7V165.8M341.50 162.9V172.1M342.50 169.3V178.5M343.50 167.0V178.5M344.50 162.5V176.6M345.50 168.4V194.2M346.50 189.3V198.6M347.50 186.6V197.0M348.50 184.6V193.0M349.50 174.7V179.1M349.50 180.3V185.4M349.50 186.4V189.5M350.50 170.3V178.2M351.50 164.1V168.6M352.50 156.4V166.5M353.50 150.2V155.4M353.50 157.1V158.3M354.50 146.4V152.3M355.50 148.6V157.1M356.50 146.4V155.7M357.50 146.7V151.5M358.50 150.7V154.7M359.50 152.3V160.1M360.50 151.1V165.1M361.50 153.1V163.5M362.50 152.6V173.2M363.50 155.5V173.2M364.50 155.5V166.7M365.50 151.5V166.7M366.50 153.9V159.8M367.50 151.2V162.6M368.50 162.5V167.5M368.50 168.9V172.0M369.50 162.7V173.2M370.50 161.7V178.2M371.50 176.6V181.5M371.50 182.7V186.8M372.50 188.2V200.5M373.50 196.8V210.6M374.50 202.2V216.1M375.50 196.1V211.7M376.50 196.3V204.9M377.50 171.9V203.2M378.50 169.8V176.2M379.50 166.8V171.7M380.50 157.8V163.3M380.50 164.4V167.3M381.50 155.1V159.6M382.50 150.3V160.0M383.50 148.9V155.6M384.50 143.1V148.5M385.50 139.4V148.5M386.50 146.6V152.3M387.50 142.7V148.5M388.50 138.0V144.2M389.50 135.4V140.7M390.50 138.4V146.7M391.50 134.6V141.7M392.50 135.9V142.7M393.50 135.4V142.7M394.50 138.1V152.3M395.50 148.5V152.3M396.50 145.9V161.9M397.50 143.5V158.5M398.50 148.5V155.5M399.50 152.3V160.2M400.50 146.7V159.5M401.50 146.7V155.1M402.50 152.3V157.7M402.50 159.2V160.6M403.50 159.7V167.8M404.50 159.0V169.9M405.50 156.4V161.9M406.50 153.9V163.3M407.50 161.9V165.0M407.50 165.9V171.0M407.50 172.8V175.8M408.50 172.0V186.0M409.50 177.5V182.6M409.50 183.8V186.0M410.50 170.2V178.1M411.50 168.5V172.7M412.50 162.6V168.7M413.50 157.4V164.2M414.50 149.1V161.2M415.50 149.4V153.0M415.50 154.2V159.7M415.50 160.9V164.7M415.50 166.5V167.6M416.50 162.3V171.6M417.50 164.2V171.1M418.50 163.5V175.9M419.50 162.5V173.2M420.50 166.7V177.8M421.50 172.3V192.4M422.50 177.9V192.4M423.50 173.7V178.2M424.50 168.3V174.4M425.50 164.5V167.9M426.50 165.1V171.8M427.50 171.0V185.8M428.50 176.0V185.2M429.50 174.8V179.5M430.50 161.7V179.6M431.50 160.3V170.0M432.50 159.0V174.3M433.50 169.1V176.4M434.50 171.6V179.4M435.50 180.7V188.0M436.50 183.8V192.7M437.50 180.6V193.6M438.50 171.6V185.3M439.50 172.8V178.4M440.50 177.9V183.2M440.50 184.5V188.5M441.50 192.4V204.9M442.50 198.5V226.1M443.50 215.3V225.8M444.50 214.4V220.9M445.50 204.0V217.0M446.50 200.9V208.8M447.50 202.9V207.3M448.50 198.5V206.6M449.50 192.3V200.9M450.50 191.2V196.4M451.50 183.9V192.4M452.50 184.4V189.3M453.50 182.0V186.9M454.50 185.0V195.6M455.50 184.9V188.5M455.50 189.9V194.7M456.50 178.3V185.1M457.50 173.9V182.2M458.50 167.5V174.7M459.50 155.8V159.6M459.50 160.5V163.6M459.50 164.7V168.6M460.50 153.9V165.6M461.50 161.7V165.5M462.50 163.7V170.9M463.50 162.3V171.6M464.50 156.3V169.9M465.50 155.7V166.2M466.50 156.6V165.2M467.50 156.0V161.4M468.50 158.1V161.5M469.50 158.2V169.4M470.50 158.2V167.6M471.50 152.9V163.0M472.50 145.8V148.9M472.50 150.2V153.2M472.50 154.1V158.1M473.50 144.5V155.6M474.50 154.6V158.2M475.50 156.6V161.2M476.50 159.6V163.7M476.50 164.9V169.0M477.50 158.7V171.0M478.50 158.4V169.5M479.50 148.2V152.8M479.50 154.1V156.6M480.50 144.5V149.4M481.50 144.5V148.5M482.50 141.6V145.0M483.50 141.4V144.8M484.50 139.4V147.5M485.50 134.6V139.6M486.50 127.8V131.1M486.50 132.7V136.4M487.50 122.8V128.0M488.50 128.4V141.5M489.50 122.9V138.9M490.50 126.0V139.3M491.50 132.8V136.5M492.50 129.9V136.5M493.50 126.0V138.3M494.50 136.2V140.5M495.50 138.1V141.5M496.50 139.3V142.5M496.50 144.1V148.5M497.50 145.9V160.8M498.50 159.5V166.2M499.50 151.5V155.1M499.50 156.1V160.7M499.50 161.6V166.2M500.50 142.1V161.4M501.50 153.3V161.4M502.50 152.1V158.2M503.50 140.8V143.9M503.50 145.4V148.6M503.50 150.2V154.6M504.50 128.7V133.4M504.50 134.4V138.1M504.50 139.5V142.7M505.50 120.1V123.9M505.50 125.3V129.0M505.50 129.9V131.0M506.50 108.0V112.0M506.50 113.3V117.5M506.50 118.8V122.0M507.50 104.8V112.0M508.50 106.8V111.5M508.50 113.0V114.8M509.50 111.9V123.2M510.50 110.2V123.2M511.50 101.6V107.3M512.50 92.4V96.9M512.50 97.8V101.1M513.50 88.7V94.1M514.50 94.6V98.4M514.50 100.2V102.9M515.50 104.0V111.2M516.50 103.2V109.5M517.50 98.2V108.0M518.50 97.5V102.4M519.50 101.6V106.4M520.50 108.2V112.8M521.50 101.5V112.8M522.50 101.5V109.6M523.50 101.2V109.6M524.50 79.7V84.4M524.50 85.7V88.9M524.50 90.2V94.1M524.50 95.5V98.6M525.50 79.1V89.3M526.50 87.5V91.9M527.50 85.5V97.7M528.50 88.7V96.7M529.50 88.7V106.4M530.50 85.5V104.1M531.50 99.9V105.0M531.50 106.4V111.3M531.50 112.8V117.6M531.50 118.5V123.6M531.50 124.5V127.9M531.50 128.7V131.8M531.50 133.5V137.4M531.50 138.3V141.5M531.50 143.1V145.2M532.50 122.3V147.7M533.50 115.8V119.7M533.50 120.7V125.1M533.50 126.4V129.6M534.50 103.2V108.6M534.50 109.5V113.5M534.50 115.0V116.0M535.50 91.4V102.6M536.50 86.9V94.8M537.50 80.3V89.0M538.50 81.9V90.5M539.50 77.8V88.1M540.50 75.9V81.0M541.50 80.3V96.5M542.50 94.0V107.5M543.50 104.7V116.0M544.50 103.2V116.0M545.50 103.1V111.2M546.50 101.5V109.6M547.50 104.5V109.6M548.50 95.4V100.1M548.50 101.1V104.9M549.50 91.1V96.9M550.50 93.8V99.7M551.50 99.7V103.2M551.50 104.1V107.5M551.50 108.3V109.7M552.50 107.4V115.2M553.50 97.8V113.6M554.50 90.4V94.1M554.50 95.5V99.7M555.50 85.9V91.1M556.50 84.7V92.5M557.50 92.7V98.3M558.50 94.0V99.0M559.50 91.9V100.4M560.50 91.9V125.5M561.50 107.8V123.3M562.50 112.0V119.2M563.50 117.6V124.4M564.50 123.5V128.7M564.50 130.3V133.9M565.50 133.7V140.0M566.50 134.8V146.4M567.50 127.1V140.9M568.50 131.7V135.9M569.50 122.4V126.3M569.50 127.5V132.2M570.50 117.5V125.4M571.50 118.0V124.7M572.50 120.7V125.6M573.50 125.4V133.5M574.50 126.5V133.1M575.50 125.5V136.7M576.50 132.4V161.1M577.50 137.0V158.4M578.50 132.5V138.5M579.50 115.1V118.5M579.50 119.9V125.2M579.50 126.0V129.7M579.50 131.2V133.2M580.50 111.0V127.2M581.50 115.1V131.1M582.50 110.1V123.5M583.50 105.2V110.7M584.50 91.1V106.5M585.50 78.1V82.5M585.50 83.4V86.6M585.50 87.9V91.2M585.50 93.0V97.5M586.50 69.0V73.1M586.50 74.4V79.1M587.50 60.9V75.1M588.50 60.9V81.0M589.50 66.8V71.8M589.50 72.9V78.0M590.50 60.2V68.0M591.50 48.5V52.0M591.50 53.3V56.9M591.50 58.4V61.7M591.50 62.6V63.7M592.50 44.9V60.2M593.50 49.2V56.9M594.50 40.6V47.0M595.50 35.2V44.2M596.50 28.0V47.3M597.50 28.0V40.9M598.50 33.6V40.9M599.50 35.9V60.0M600.50 45.8V63.3M601.50 44.1V52.1M602.50 33.6V52.3M603.50 35.5V40.9M604.50 34.5V44.1M605.50 40.1V44.1M605.50 45.1V48.3M605.50 49.1V54.0M605.50 55.1V57.5M606.50 48.8V63.2M607.50 63.4V83.5M608.50 75.7V115.4M609.50 88.3V195.7M610.50 122.3V171.0M611.50 131.9V148.0M612.50 131.2V139.9M613.50 116.1V120.4M613.50 121.3V125.0M613.50 126.1V130.1M613.50 131.8V136.3M614.50 108.8V115.8M615.50 102.9V108.5M616.50 87.8V98.9M617.50 92.7V100.7M618.50 92.7V105.5M619.50 94.9V99.9M619.50 101.5V105.1M620.50 87.2V97.2M621.50 78.2V84.3M622.50 81.0V108.9M623.50 84.7V107.1M624.50 84.6V97.5M625.50 86.6V91.8M625.50 93.4V96.6M626.50 83.0V91.5M627.50 82.2V92.7M628.50 82.2V91.7M629.50 87.5V105.8M630.50 103.5V108.0M630.50 109.2V114.7M630.50 115.8V118.8M631.50 99.8V120.8M632.50 103.9V118.3M633.50 106.3V114.0M634.50 106.7V116.7M635.50 105.5V119.5M636.50 105.8V115.1M637.50 99.9V112.3M638.50 104.4V116.7M639.50 107.1V115.1M640.50 109.0V118.3M641.50 101.0V105.2M641.50 106.9V112.4M641.50 113.6V114.1M642.50 99.9V105.7M643.50 106.3V118.7M644.50 115.6V134.4M645.50 122.2V126.9M645.50 128.6V133.3M646.50 115.9V123.1M647.50 111.4V117.1M648.50 103.4V107.3M648.50 108.1V111.9M649.50 93.4V96.4M649.50 97.5V101.4M649.50 103.2V104.5M650.50 87.0V93.1M651.50 87.0V95.9M652.50 91.0V94.7M653.50 94.1V99.1M654.50 94.3V103.9M655.50 79.8V103.9M656.50 83.2V90.0M657.50 85.7V95.7M658.50 93.6V103.3M659.50 99.5V109.5M660.50 97.5V111.7M661.50 100.9V104.7M661.50 106.2V111.5M661.50 113.3V116.7M662.50 100.5V117.5M663.50 83.1V106.9M664.50 75.4V80.7M664.50 82.2V85.5M664.50 87.0V89.7M665.50 67.1V72.0M665.50 73.2V76.7M666.50 64.1V70.5M667.50 63.7V77.5M668.50 60.1V81.0M669.50 60.1V68.2M670.50 64.9V68.3M671.50 64.8V75.9M672.50 73.0V82.8M673.50 78.1V92.2M674.50 88.5V101.5M675.50 88.8V101.5M676.50 67.2V70.4M676.50 71.7V74.9M676.50 76.1V81.1M676.50 82.2V87.0M677.50 53.5V75.7M678.50 52.9V64.2M679.50 60.8V77.8M680.50 58.8V72.0M681.50 57.7V61.9M681.50 62.8V65.9M682.50 52.0V57.1M683.50 43.9V53.7M684.50 43.2V52.0M685.50 44.1V50.5M686.50 42.5V53.9M687.50 41.2V52.9M688.50 32.8V46.4M689.50 34.0V39.6" stroke-width="1" stroke="#111" shape-rendering="crispEdges"/>
</g></svg>
<div class="yl" style="top:0.00px">13.500</div>
<div class="yl" style="top:33.58px">13.000</div>
<div class="yl" style="top:67.17px">12.500</div>
<div class="yl" style="top:100.75px">12.000</div>
<div class="yl" style="top:134.33px">11.500</div>
<div class="yl" style="top:167.92px">11.000</div>
<div class="yl" style="top:201.50px">10.500</div>
<div class="yl" style="top:235.08px">10.000</div>
<div class="yl" style="top:268.67px">9.500</div>
<div class="yl" style="top:302.25px">9.000</div>
<div class="yl" style="top:335.83px">8.500</div>
<div class="yl" style="top:369.42px">8.000</div>
<div class="yl" style="top:403.00px">7.500</div>
<div class="xl" style="left:3px">2020</div>
<div class="xl" style="left:118px">2021</div>
<div class="xl" style="left:234px">2022</div>
<div class="xl" style="left:350px">2023</div>
<div class="xl" style="left:464px">2024</div>
<div class="xl" style="left:578px">2025</div>
</body></html>
